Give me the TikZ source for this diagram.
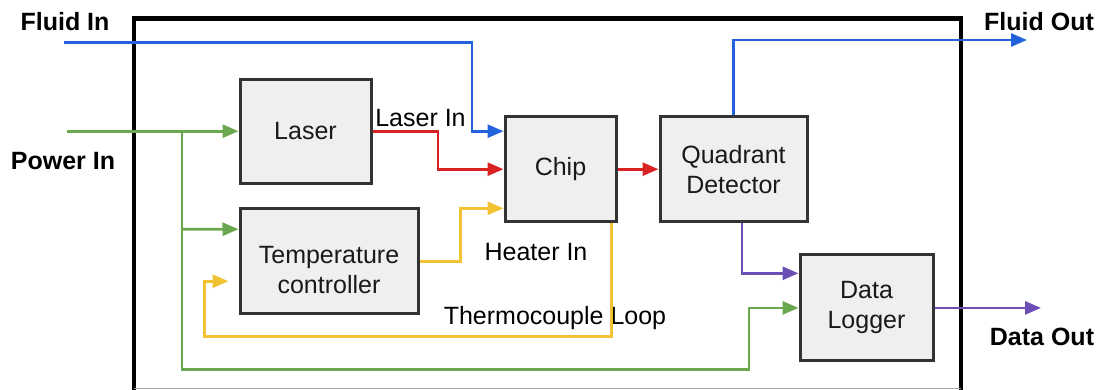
\documentclass[tikz,border=0pt]{standalone}
\usepackage{fontspec}
\setmainfont{Liberation Sans}
\usetikzlibrary{arrows.meta}
\definecolor{cblue}{HTML}{2262DA}
\definecolor{cred}{HTML}{D92323}
\definecolor{cgreen}{HTML}{6AA84F}
\definecolor{cyellow}{HTML}{F1C232}
\definecolor{cpurple}{HTML}{6B4FB5}
\definecolor{boxfill}{HTML}{EFEFEF}
\definecolor{boxline}{HTML}{333333}
\tikzset{
  blockbox/.style={draw=boxline, line width=3pt, fill=boxfill, inner sep=0pt, align=center,
    font=\fontsize{25}{30}\selectfont, text=black!90},
  lbl/.style={inner sep=0pt, font=\fontsize{25}{30}\selectfont},
  iolbl/.style={inner sep=0pt, font=\fontsize{25}{30}\selectfont\bfseries},
  conn/.style={line width=2.8pt, -{Triangle[length=16pt,width=13pt]}},
}
\begin{document}
\begin{tikzpicture}[x=1pt,y=-1pt]
\useasboundingbox (0,0) rectangle (1097,389);
% outer frame
\draw[line width=4.5pt, black] (134,390) -- (134,18.5) -- (961,18.5) -- (961,390);
\draw[line width=1pt, black!35] (134,388.5) -- (961,388.5);
% blocks
\node[blockbox, minimum width=131pt, minimum height=104pt] (laser) at (305.5,131.2) {Laser};
\node[blockbox, minimum width=111pt, minimum height=105pt] (chip) at (560.5,169.2) {Chip};
\node[blockbox, minimum width=147pt, minimum height=105pt] (qd) at (733.5,169.2) {Quadrant\\Detector};
\node[blockbox, minimum width=178pt, minimum height=105pt,
  label={[lbl, align=center, text=black!90, yshift=-9pt]center:Temperature\\controller}] (tc) at (329,261.2) {};
\node[blockbox, minimum width=133pt, minimum height=106pt] (dl) at (866.5,307.9) {Data\\Logger};
% io labels
\node[iolbl] (lfin) at (65,21.7) {Fluid In};
\node[iolbl] (lpin) at (63,161) {Power In};
\node[iolbl] (lfout) at (1039,21.7) {Fluid Out};
\node[iolbl] (ldout) at (1042,336.7) {Data Out};
% connector labels
\node[lbl] (llaser) at (420.5,118.3) {Laser In};
\node[lbl] (lheat) at (536,251.7) {Heater In};
\node[lbl] (ltc) at (555,318.3) {Thermocouple Loop};
% free ends
\coordinate (fin) at (64,42.3);
\coordinate (fout) at (1027,40);
\coordinate (pin) at (67,131.2);
\coordinate (gj) at (182,131.2);
\coordinate (gj2) at (182,229.3);
\coordinate (dout) at (1041,307.9);
% fluid
\draw[conn, cblue] (fin) -- (472,42.3) |- (chip.west |- laser.east);
\draw[conn, cblue] (qd.north) |- (fout);
% laser
\draw[conn, cred] (laser.east) -- (438,131.2) |- (chip.west);
\draw[conn, cred] (chip.east) -- (qd.west);
% heater
\draw[conn, cyellow] (tc.east) -| (460.7,208.3) -- (chip.west |- 0,208.3);
% thermocouple loop
\draw[conn, cyellow] ([xshift=-6.4pt]chip.south east) |- (204.6,336.7) |- ([xshift=-10pt,yshift=-20pt]tc.west);
% power
\draw[conn, cgreen] (pin) -- (laser.west);
\draw[conn, cgreen] (gj) |- (749,369.3) |- (dl.west);
\draw[conn, cgreen] (gj2) -- ([yshift=32pt]tc.west);
% data
\draw[conn, cpurple] ([xshift=8.5pt]qd.south) |- ([yshift=34.6pt]dl.west);
\draw[conn, cpurple] (dl.east) -- (dout);
\end{tikzpicture}
\end{document}
